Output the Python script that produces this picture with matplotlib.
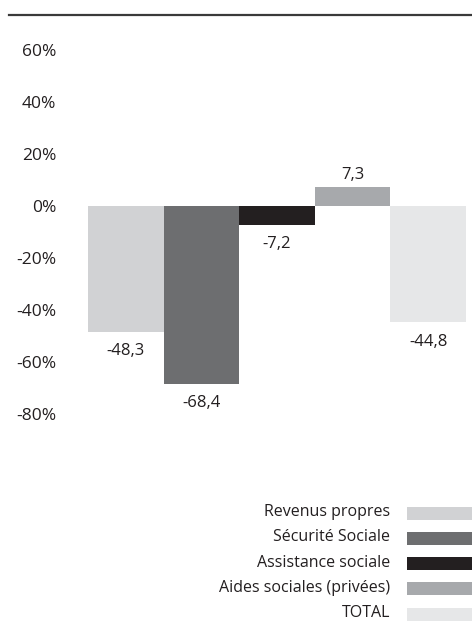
import matplotlib.pyplot as plt
from matplotlib.lines import Line2D
from matplotlib.patches import Rectangle

categories = ['Revenus propres', 'Sécurité Sociale', 'Assistance sociale',
              'Aides sociales (privées)', 'TOTAL']
values = [-48.3, -68.4, -7.2, 7.3, -44.8]
colors = ['#d1d2d4', '#6d6e70', '#231f20', '#a7a9ac', '#e6e7e8']
yticks = [60, 40, 20, 0, -20, -40, -60, -80]

plt.rcParams['font.family'] = ['Open Sans', 'DejaVu Sans']
TXT = '#231f20'

W, H = 472, 621
fig = plt.figure(figsize=(W / 100, H / 100), dpi=100)

# bar area in pixel terms: x 88..466, y (60%) 50 .. (-80%) 414
ax = fig.add_axes([88 / W, 1 - 414 / H, 378 / W, 364 / H])
x = list(range(len(values)))
ax.bar(x, values, width=1.0, color=colors, linewidth=0)
ax.set_xlim(-0.5, len(values) - 0.5)
ax.set_ylim(-80, 60)
ax.set_xticks([])
ax.set_yticks(yticks)
ax.set_yticklabels([f'{t}%' for t in yticks], fontsize=12.5, color=TXT)
ax.tick_params(axis='y', length=0, pad=23)
for s in ax.spines.values():
    s.set_visible(False)

for xi, v in zip(x, values):
    lab = f'{v:.1f}'.replace('.', ',')
    if v >= 0:
        ax.annotate(lab, (xi, v), xytext=(0, 3), textcoords='offset points',
                    ha='center', va='bottom', fontsize=12, color=TXT)
    else:
        ax.annotate(lab, (xi, v), xytext=(0, -8), textcoords='offset points',
                    ha='center', va='top', fontsize=12, color=TXT)

# rule across the top
fig.add_artist(Line2D([9 / W, 1], [1 - 15 / H, 1 - 15 / H], color='#3a3a3a', lw=1.6))

# legend, drawn by hand in pixel space
for i, (name, c) in enumerate(zip(categories, colors)):
    yc = 512 + i * 25.3
    fig.text(390 / W, 1 - yc / H, name, ha='right', va='center',
             fontsize=11.5, color=TXT)
    fig.add_artist(Rectangle((407 / W, 1 - (yc + 7.5) / H), 70 / W, 13 / H,
                             color=c, lw=0, transform=fig.transFigure))

fig.savefig('out.png', dpi=100)
